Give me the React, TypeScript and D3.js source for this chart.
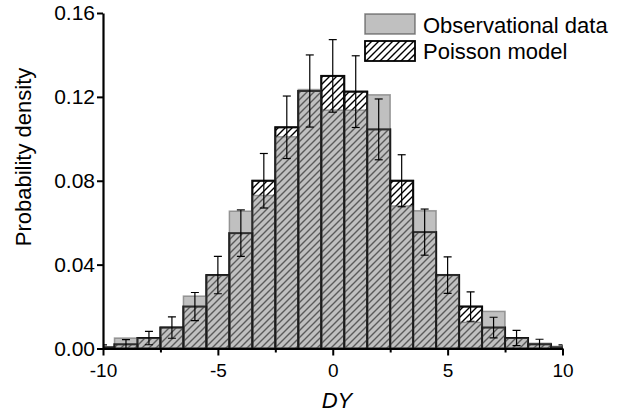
import * as React from 'react';
import { axisBottom, axisLeft, scaleLinear, select } from 'd3';

// bins are 1 unit wide, centered on the integer DY values
const bins = [-10, -9, -8, -7, -6, -5, -4, -3, -2, -1, 0, 1, 2, 3, 4, 5, 6, 7, 8, 9, 10];
const observed = [0.0005, 0.005, 0.005, 0.010, 0.025, 0.035, 0.0655, 0.073, 0.101, 0.1235, 0.1137, 0.1137, 0.121, 0.068, 0.0657, 0.0352, 0.0125, 0.0177, 0.005, 0.0025, 0.001];
const poisson = [0.0005, 0.002, 0.005, 0.010, 0.020, 0.035, 0.055, 0.080, 0.1055, 0.1228, 0.130, 0.1225, 0.1045, 0.080, 0.0555, 0.035, 0.020, 0.010, 0.005, 0.002, 0.0005];
const poissonErr = [0.0012, 0.0022, 0.0032, 0.0051, 0.0067, 0.0089, 0.0111, 0.013, 0.0149, 0.0172, 0.0173, 0.0171, 0.0145, 0.0124, 0.011, 0.0087, 0.007, 0.0049, 0.0036, 0.0024, 0.0012];
const xMajorTicks = [-10, -5, 0, 5, 10];
const xMinorTicks = [-7.5, -2.5, 2.5, 7.5];
const yTicks = [0, 0.04, 0.08, 0.12, 0.16];
const legendLabels = ["Observational data", "Poisson model"];

const FONT = '"Liberation Sans", Arial, Helvetica, sans-serif';
const OBS_FILL = "#969696";
const OBS_OPACITY = 0.6;

const App = () => {
    const svgRef = React.useRef<SVGSVGElement>(null);

    React.useEffect(() => {
        if (!svgRef.current) return;
        const svg = select(svgRef.current);
        svg.selectAll("*").remove();

        const width = 632, height = 415;
        const left = 103, right = 562.5, top = 13, bottom = 348.5;

        const x = scaleLinear().domain([-10, 10]).range([left, right]);
        const y = scaleLinear().domain([0, 0.16]).range([bottom, top]);
        const bw = x(0.5) - x(-0.5);

        const defs = svg.append("defs");
        const pat = defs.append("pattern")
            .attr("id", "hatch")
            .attr("patternUnits", "userSpaceOnUse")
            .attr("width", 7).attr("height", 7);
        pat.append("path")
            .attr("d", "M-1,1 l2,-2 M0,7 l7,-7 M6,8 l2,-2")
            .attr("stroke", "#000")
            .attr("stroke-width", 1.4);
        defs.append("clipPath").attr("id", "plotClip")
            .append("rect")
            .attr("x", left).attr("y", 0)
            .attr("width", right - left).attr("height", bottom + 1);

        const plot = svg.append("g").attr("clip-path", "url(#plotClip)");

        // hatched model bars go first, the translucent observed bars sit over them
        plot.selectAll(".model")
            .data(bins)
            .join("rect")
            .attr("class", "model")
            .attr("x", (d) => x(d) - bw / 2)
            .attr("y", (d, i) => y(poisson[i]))
            .attr("width", bw)
            .attr("height", (d, i) => bottom - y(poisson[i]))
            .attr("fill", "url(#hatch)")
            .attr("stroke", "#000")
            .attr("stroke-width", 2);

        plot.selectAll(".obs")
            .data(bins)
            .join("rect")
            .attr("class", "obs")
            .attr("x", (d) => x(d) - bw / 2)
            .attr("y", (d, i) => y(observed[i]))
            .attr("width", bw)
            .attr("height", (d, i) => bottom - y(observed[i]))
            .attr("fill", OBS_FILL)
            .attr("fill-opacity", OBS_OPACITY)
            .attr("stroke", "#505050")
            .attr("stroke-opacity", 0.5)
            .attr("stroke-width", 1.5);

        // darker re-stroke of the model outlines so the bar edges read as black
        plot.selectAll(".model-edge")
            .data(bins)
            .join("rect")
            .attr("class", "model-edge")
            .attr("x", (d) => x(d) - bw / 2)
            .attr("y", (d, i) => y(poisson[i]))
            .attr("width", bw)
            .attr("height", (d, i) => bottom - y(poisson[i]))
            .attr("fill", "none")
            .attr("stroke", "#111")
            .attr("stroke-opacity", 0.6)
            .attr("stroke-width", 1.8);

        const err = plot.selectAll(".err")
            .data(bins)
            .join("g")
            .attr("class", "err")
            .attr("stroke", "#000")
            .attr("stroke-width", 1.2);
        err.append("line")
            .attr("x1", (d) => x(d)).attr("x2", (d) => x(d))
            .attr("y1", (d, i) => y(poisson[i] + poissonErr[i]))
            .attr("y2", (d, i) => y(poisson[i] - poissonErr[i]));
        [1, -1].forEach((s) => {
            err.append("line")
                .attr("x1", (d) => x(d) - 4).attr("x2", (d) => x(d) + 4)
                .attr("y1", (d, i) => y(poisson[i] + s * poissonErr[i]))
                .attr("y2", (d, i) => y(poisson[i] + s * poissonErr[i]));
        });

        // axes
        const xAxis = svg.append("g").attr("transform", `translate(0,${bottom})`)
            .call(axisBottom(x).tickValues(xMajorTicks).tickSize(7).tickSizeOuter(0).tickPadding(8).tickFormat((d) => String(d)) as any);
        const xMinor = svg.append("g").attr("transform", `translate(0,${bottom})`)
            .call(axisBottom(x).tickValues(xMinorTicks).tickSize(4).tickSizeOuter(0).tickFormat(() => "") as any);
        xMinor.select(".domain").remove();
        const yAxis = svg.append("g").attr("transform", `translate(${left},0)`)
            .call(axisLeft(y).tickValues(yTicks).tickSize(6).tickSizeOuter(0).tickPadding(2).tickFormat((d) => (+d).toFixed(2)) as any);

        [xAxis, xMinor, yAxis].forEach((g) => {
            g.selectAll(".domain").attr("stroke", "#000").attr("stroke-width", 2.2);
            g.selectAll("line").attr("stroke", "#000").attr("stroke-width", 2);
            g.selectAll("text").attr("fill", "#000").style("font-family", FONT).style("font-size", "19px");
        });
        yAxis.selectAll("text").style("font-size", "21px");

        svg.append("text")
            .attr("x", 337).attr("y", 408)
            .attr("text-anchor", "middle")
            .style("font-family", FONT).style("font-size", "22px").style("font-style", "italic")
            .text("DY");

        svg.append("text")
            .attr("transform", "translate(31,157) rotate(-90)")
            .attr("text-anchor", "middle")
            .style("font-family", FONT).style("font-size", "22px")
            .text("Probability density");

        // legend
        const legend = svg.append("g");
        legend.append("rect")
            .attr("x", 365).attr("y", 14).attr("width", 50).attr("height", 20)
            .attr("fill", OBS_FILL).attr("fill-opacity", OBS_OPACITY)
            .attr("stroke", "#505050").attr("stroke-opacity", 0.7).attr("stroke-width", 1.5);
        legend.append("rect")
            .attr("x", 365).attr("y", 41).attr("width", 50).attr("height", 20)
            .attr("fill", "url(#hatch)")
            .attr("stroke", "#000").attr("stroke-width", 1.8);
        legend.selectAll(".leg-text")
            .data(legendLabels)
            .join("text")
            .attr("class", "leg-text")
            .attr("x", 423)
            .attr("y", (d, i) => 33 + i * 26)
            .style("font-family", FONT).style("font-size", "22px")
            .text((d) => d);

        svg.attr("width", width).attr("height", height);
    }, [svgRef]);

    return (
        <div style={{ position: 'absolute', left: 0, top: 0, width: 632, height: 415, background: '#fff' }}>
            <svg ref={svgRef} width={632} height={415} style={{ display: 'block' }} />
        </div>
    );
};

export default App;
